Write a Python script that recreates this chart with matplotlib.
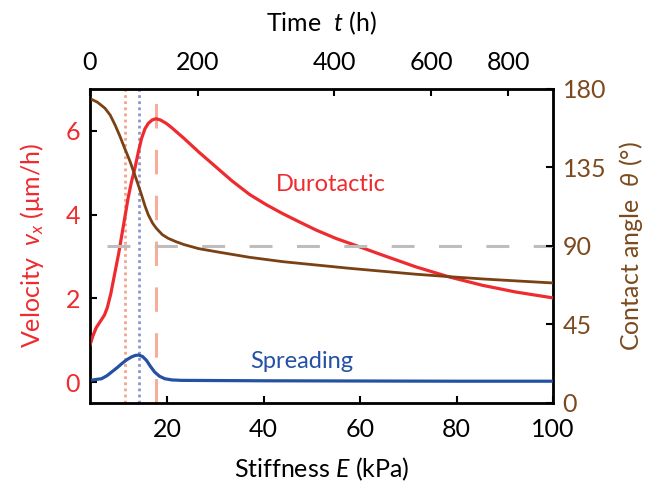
import matplotlib
matplotlib.use("Agg")
import matplotlib.pyplot as plt

plt.rcParams['font.family'] = ['Lato', 'DejaVu Sans']
plt.rcParams['mathtext.fontset'] = 'custom'
plt.rcParams['mathtext.it'] = 'Lato:italic'
plt.rcParams['mathtext.rm'] = 'Lato'

# durotactic velocity (um/h) vs stiffness (kPa)
duro_E = [4.0, 4.6, 5.3, 6.1, 7.0, 7.6, 8.3, 9.2, 10.0, 10.6, 11.3, 11.9, 12.6,
          13.3, 14.0, 14.7, 15.4, 16.1, 16.9, 17.7, 18.6, 19.8, 20.9, 22.2,
          23.5, 25.0, 26.5, 28.3, 30.2, 33.5, 37.1, 40.5, 44.0, 47.5, 50.9,
          55.0, 59.9, 64.7, 71.6, 78.5, 85.4, 92.3, 100.0]
duro_v = [0.88, 1.10, 1.30, 1.44, 1.60, 1.78, 2.10, 2.63, 3.10, 3.51, 3.98,
          4.39, 4.78, 5.10, 5.48, 5.82, 6.05, 6.18, 6.26, 6.29, 6.26, 6.18,
          6.08, 5.95, 5.82, 5.66, 5.50, 5.32, 5.13, 4.80, 4.48, 4.24, 4.02,
          3.82, 3.63, 3.43, 3.23, 3.03, 2.75, 2.51, 2.31, 2.15, 2.01]

# spreading velocity
spread_E = [4.0, 6.4, 7.5, 8.5, 9.6, 10.6, 11.6, 12.6, 13.4, 14.1, 14.9, 15.7,
            16.5, 17.4, 18.4, 19.5, 21.0, 23.0, 40.0, 60.0, 80.0, 100.0]
spread_v = [0.04, 0.08, 0.15, 0.24, 0.34, 0.44, 0.53, 0.60, 0.635, 0.645,
            0.61, 0.52, 0.38, 0.24, 0.14, 0.08, 0.05, 0.04, 0.03, 0.025, 0.02,
            0.02]

# contact angle (deg)
angle_E = [4.0, 5.5, 7.1, 8.2, 9.2, 10.2, 11.2, 12.3, 13.3, 14.0, 14.7, 15.4,
           16.1, 17.0, 17.8, 19.0, 20.2, 21.8, 23.5, 26.5, 30.2, 37.1, 44.0,
           50.9, 57.8, 64.7, 71.6, 78.5, 85.4, 92.3, 100.0]
angle_theta = [174.5, 172.5, 169.0, 165.0, 159.4, 153.0, 146.0, 138.5, 130.7,
               125.0, 119.2, 113.0, 107.8, 103.0, 100.0, 96.5, 94.4, 92.5,
               90.8, 88.5, 86.7, 83.5, 81.0, 79.1, 77.2, 75.5, 73.8, 72.4,
               71.1, 70.0, 68.8]

# markers
E_dotted_orange = 11.2
E_dotted_blue = 14.15
E_dashed_orange = 17.6
theta_ref = 90

# top axis: time labels at their stiffness positions
time_labels = ['0', '200', '400', '600', '800']
time_at_E = [4.0, 26.3, 54.7, 74.7, 90.7]

red = '#EE2B2F'
brown = '#7A4114'
blue = '#2451A4'
brown_txt = '#7B4A1E'
fs = 18

fig = plt.figure(figsize=(6.64, 4.93), dpi=100)
ax = fig.add_axes([0.1355, 0.1826, 0.6973, 0.6369])
ax.axvline(E_dotted_orange, color='#F5A48C', lw=2, ls=(0, (1, 1.2)), zorder=1)
ax.axvline(E_dotted_blue, color='#8E96D2', lw=2, ls=(0, (1, 1.2)), zorder=1)
ax.axvline(E_dashed_orange, color='#F7AE98', lw=2.2, ls=(0, (8, 7)), zorder=1)
ax.plot(duro_E, duro_v, color=red, lw=2.3, zorder=3)
ax.plot(spread_E, spread_v, color=blue, lw=2.3, zorder=3)
ax.set_xlim(4, 100)
ax.set_ylim(-0.5, 7)
ax.set_xticks([20, 40, 60, 80, 100])
ax.set_yticks([0, 2, 4, 6])
ax.tick_params(direction='in', length=5, width=1.5, labelsize=fs, pad=7)
ax.tick_params(axis='x', pad=11)
ax.tick_params(axis='y', labelcolor=red)
ax.set_xlabel('Stiffness $E$ (kPa)', fontsize=fs, labelpad=10)
ax.set_ylabel('Velocity  $v_x$ (μm/h)', fontsize=fs, color=red, labelpad=14)
for s in ax.spines.values():
    s.set_linewidth(2)

ax.text(54, 4.72, 'Durotactic', color=red, fontsize=17, ha='center', va='center')
ax.text(48, 0.5, 'Spreading', color=blue, fontsize=17, ha='center', va='center')

ax2 = ax.twinx()
ax2.plot([7.5, 100], [theta_ref, theta_ref], color='#BDBDBD', lw=2.2,
         ls=(0, (7.5, 8)), zorder=1)
ax2.plot(angle_E, angle_theta, color=brown, lw=2.0, zorder=3)
ax2.set_ylim(0, 180)
ax2.set_yticks([0, 45, 90, 135, 180])
ax2.tick_params(direction='in', length=5, width=1.5, labelsize=fs, pad=7,
                labelcolor=brown_txt)
ax2.set_ylabel('Contact angle  $\\theta$ (°)', fontsize=fs, color=brown_txt,
               labelpad=8)

ax3 = ax.twiny()
ax3.set_xlim(ax.get_xlim())
ax3.set_xticks(time_at_E)
ax3.set_xticklabels(time_labels)
ax3.tick_params(direction='in', length=5, width=1.5, labelsize=fs, pad=11)
ax3.set_xlabel('Time  $t$ (h)', fontsize=fs, labelpad=14)

fig.savefig('out.png', dpi=100)
